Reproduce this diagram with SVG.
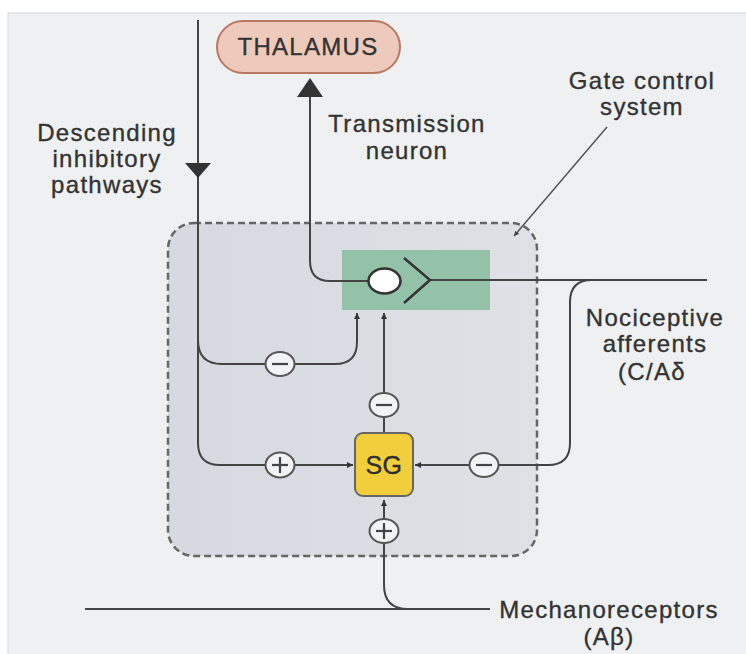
<svg xmlns="http://www.w3.org/2000/svg" width="746" height="654" viewBox="0 0 746 654">
<defs>
<marker id="arrS" viewBox="0 0 10 10" refX="10" refY="5" markerWidth="6" markerHeight="6" markerUnits="userSpaceOnUse" orient="auto"><path d="M0,0 L10,5 L0,10 Z" fill="#333"/></marker>
<marker id="arrTiny" viewBox="0 0 10 10" refX="10" refY="5" markerWidth="5" markerHeight="5" markerUnits="userSpaceOnUse" orient="auto"><path d="M0,0 L10,5 L0,10 Z" fill="#444"/></marker>
<linearGradient id="gateFill" x1="0" y1="0" x2="1" y2="0">
<stop offset="0" stop-color="#d6d9e0"/><stop offset="1" stop-color="#dfe1e6"/>
</linearGradient>
</defs>
<style>
text{font-family:"Liberation Sans",Arial,sans-serif;fill:#333;stroke:#333;stroke-width:0.35px;font-size:24px;letter-spacing:1.3px;text-anchor:middle}
.ln{fill:none;stroke:#444;stroke-width:2}
.sign{fill:#f2f3f4;stroke:#555;stroke-width:2}
.mk{fill:none;stroke:#444;stroke-width:2.2}
</style>
<rect x="0" y="0" width="746" height="654" fill="#ffffff"/>
<rect x="8" y="13" width="740" height="643" fill="#eef0f2" stroke="#d6d6d6" stroke-width="1"/>

<g id="gate-control-system">
<rect x="168" y="223" width="369" height="333" rx="26" fill="url(#gateFill)" stroke="#666" stroke-width="2.5" stroke-dasharray="7,4"/>
</g>

<g id="transmission-box">
<rect x="342" y="250" width="148" height="60" fill="#93c2a9"/>
</g>

<g id="thalamus">
<rect x="217" y="21" width="183" height="52" rx="26" fill="#eecabd" stroke="#b87862" stroke-width="2"/>
<text x="308" y="55">THALAMUS</text>
</g>

<g id="connectors">
<path class="ln" d="M198,20 L198,443 Q198,465 220,465 L353,465" marker-end="url(#arrS)"/>
<path d="M185,163 L211,163 L198,178 Z" fill="#333"/>
<path class="ln" d="M198,340 Q198,364 222,364 L335,364 Q357,364 357,342 L357,313" marker-end="url(#arrS)"/>
<path class="ln" d="M384,433 L384,313" marker-end="url(#arrS)"/>
<path class="ln" d="M368,281 L330,281 Q310,281 310,261 L310,97"/>
<path d="M297,97 L323,97 L310,78 Z" fill="#333"/>
<path class="ln" d="M430,280 L707,280"/>
<path class="ln" d="M592,280 Q570,280 570,302 L570,443 Q570,465 548,465 L415,465" marker-end="url(#arrS)"/>
<path class="ln" d="M85,609 L490,609"/>
<path class="ln" d="M408,609 Q384,609 384,585 L384,500" marker-end="url(#arrS)"/>
<path d="M607,127 L514,236" fill="none" stroke="#555" stroke-width="1.5" marker-end="url(#arrTiny)"/>
</g>

<g id="transmission-neuron">
<ellipse cx="384.5" cy="281" rx="16" ry="12.5" fill="#ffffff" stroke="#333" stroke-width="2.5"/>
<path d="M404,258 L430,280 L404,303" fill="none" stroke="#333" stroke-width="2.5"/>
</g>

<g id="sg">
<rect x="355" y="433" width="58" height="63" rx="8" fill="#f3ce3c" stroke="#666" stroke-width="2"/>
<text x="384" y="474" style="font-size:25px;letter-spacing:0.5px;fill:#2e2e2e;stroke:#2e2e2e">SG</text>
</g>

<g id="sign-minus-descending">
<ellipse class="sign" cx="280" cy="364" rx="14.5" ry="12"/>
<line class="mk" x1="272" y1="364" x2="288" y2="364"/>
</g>
<g id="sign-plus-descending">
<ellipse class="sign" cx="280" cy="465" rx="14.5" ry="12.5"/>
<line class="mk" x1="272" y1="465" x2="288" y2="465"/>
<line class="mk" x1="280" y1="457" x2="280" y2="473"/>
</g>
<g id="sign-minus-sg">
<ellipse class="sign" cx="384" cy="405" rx="14.5" ry="12"/>
<line class="mk" x1="376" y1="405" x2="392" y2="405"/>
</g>
<g id="sign-minus-nociceptive">
<ellipse class="sign" cx="484" cy="465" rx="14.5" ry="12"/>
<line class="mk" x1="476" y1="465" x2="492" y2="465"/>
</g>
<g id="sign-plus-mechano">
<ellipse class="sign" cx="384" cy="531" rx="14.5" ry="12"/>
<line class="mk" x1="376" y1="531" x2="392" y2="531"/>
<line class="mk" x1="384" y1="523" x2="384" y2="539"/>
</g>

<g id="labels">
<text x="107" y="141">Descending</text>
<text x="107" y="167">inhibitory</text>
<text x="107" y="193">pathways</text>
<text x="407" y="132">Transmission</text>
<text x="407" y="159">neuron</text>
<text x="642" y="89">Gate control</text>
<text x="642" y="115">system</text>
<text x="655" y="326">Nociceptive</text>
<text x="655" y="352">afferents</text>
<text x="652" y="380">(C/Aδ</text>
<text x="609" y="618">Mechanoreceptors</text>
<text x="609" y="645">(Aβ)</text>
</g>
</svg>
